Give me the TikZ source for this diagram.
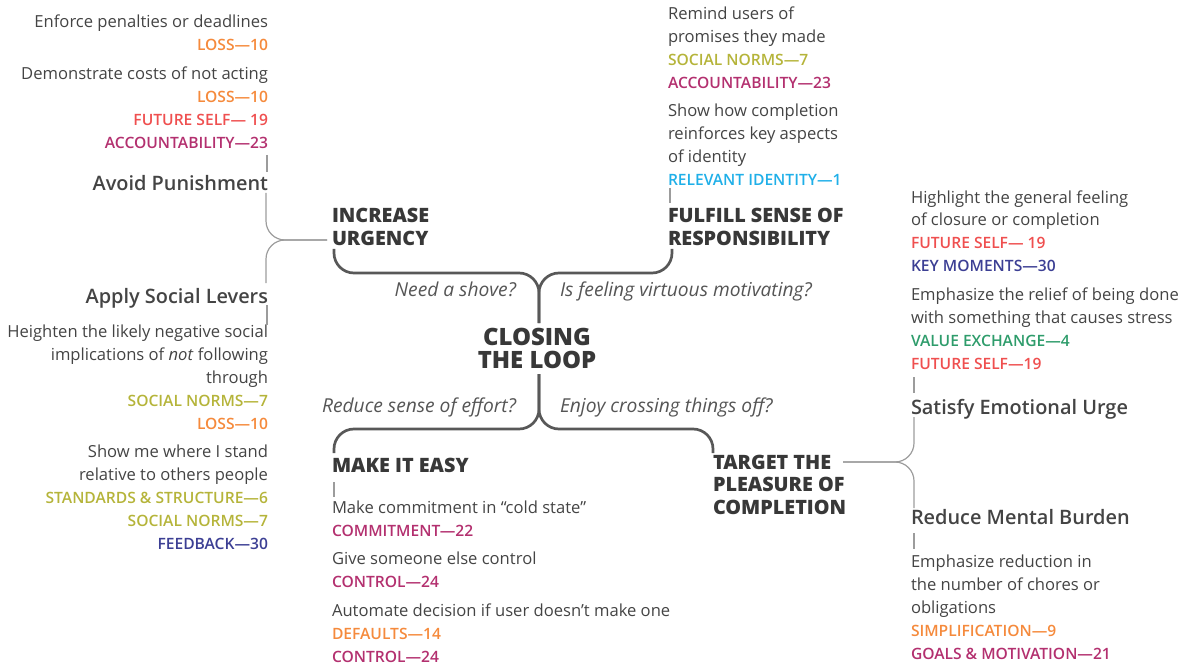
\documentclass[tikz,border=0pt]{standalone}
\usepackage{fontspec}
\setmainfont{Open Sans}
\newfontfamily\semib{Open Sans Semibold}
\newfontfamily\xbold{Open Sans Extrabold}

\definecolor{ink}{HTML}{444444}
\definecolor{headink}{HTML}{383838}
\definecolor{askink}{HTML}{555555}
\definecolor{branch}{HTML}{585858}
\definecolor{twig}{HTML}{9C9C9C}
\definecolor{cLoss}{HTML}{F58A3C}
\definecolor{cFuture}{HTML}{EF4F4F}
\definecolor{cAcc}{HTML}{B3306F}
\definecolor{cNorm}{HTML}{B5B43A}
\definecolor{cIdent}{HTML}{1FAFE8}
\definecolor{cNavy}{HTML}{3C3F94}
\definecolor{cValue}{HTML}{2E9C6B}

% coloured reference tags
\newcommand\tg[2]{{\semib\fontsize{15.6}{23}\selectfont\color{#1}#2}}

\begin{document}
\begin{tikzpicture}[x=1pt,y=-1pt,
  every node/.append style={yshift=-1pt},
  txt/.style={inner sep=0pt, outer sep=0pt, text=ink, font=\fontsize{16.6}{23}\selectfont},
  lcol/.style={txt, anchor=base east, align=right},
  rcol/.style={txt, anchor=base west, align=left},
  head/.style={inner sep=0pt, outer sep=0pt, text=headink, font=\xbold\fontsize{19.8}{23}\selectfont},
  sub/.style={inner sep=0pt, outer sep=0pt, text=ink, font=\semib\fontsize{19.9}{23}\selectfont},
  ask/.style={inner sep=0pt, outer sep=0pt, text=askink, font=\itshape\fontsize{19.2}{23}\selectfont},
  mainline/.style={draw=branch, line width=2.7pt, rounded corners=20pt},
  twigline/.style={draw=twig, line width=1.2pt, rounded corners=19pt}]
\useasboundingbox (0,0) rectangle (1181,663);

% ---- centre ----
\node[head, font=\xbold\fontsize{23.9}{23}\selectfont, align=center, anchor=base] (closing) at (537,367) {CLOSING\\THE LOOP};

\node[ask, anchor=base east] (qshove) at (516,295) {Need a shove?};
\node[ask, anchor=base west] (qvirtue) at (560,295) {Is feeling virtuous motivating?};
\node[ask, anchor=base east] (qeffort) at (516,411) {Reduce sense of effort?};
\node[ask, anchor=base west] (qcross) at (560,411) {Enjoy crossing things off?};

% ---- four strategies (base = baseline of the last line) ----
\node[head, anchor=base west, align=left] (urgency) at (332,245) {INCREASE\\URGENCY};
\node[head, anchor=base west, align=left] (respons) at (668,245) {FULFILL SENSE OF\\RESPONSIBILITY};
\node[head, anchor=base west, align=left] (easy) at (332,471) {MAKE IT EASY};
\node[head, anchor=base west, align=left, font=\xbold\fontsize{19.8}{22.5}\selectfont] (pleasure) at (713,513) {TARGET THE\\PLEASURE OF\\COMPLETION};

% ---- increase urgency ----
\node[lcol] (pen) at (268,50) {Enforce penalties or deadlines\\\tg{cLoss}{LOSS—10}};
\node[lcol] (cost) at (268,148) {Demonstrate costs of not acting\\\tg{cLoss}{LOSS—10}\\\tg{cFuture}{FUTURE SELF— 19}\\\tg{cAcc}{ACCOUNTABILITY—23}};
\node[sub, anchor=base east] (avoid) at (268,190) {Avoid Punishment};
\node[sub, anchor=base east] (levers) at (268,302) {Apply Social Levers};
\node[lcol] (heighten) at (268,428) {Heighten the likely negative social\\implications of \textit{not} following\\through\\\tg{cNorm}{SOCIAL NORMS—7}\\\tg{cLoss}{LOSS—10}};
\node[lcol] (stand) at (268,548) {Show me where I stand\\relative to others people\\\tg{cNorm}{STANDARDS \& STRUCTURE—6}\\\tg{cNorm}{SOCIAL NORMS—7}\\\tg{cNavy}{FEEDBACK—30}};

% ---- fulfill sense of responsibility ----
\node[rcol] (remind) at (668,88) {Remind users of\\promises they made\\\tg{cNorm}{SOCIAL NORMS—7}\\\tg{cAcc}{ACCOUNTABILITY—23}};
\node[rcol] (identity) at (668,185) {Show how completion\\reinforces key aspects\\of identity\\\tg{cIdent}{RELEVANT IDENTITY—1}};

% ---- make it easy ----
\node[rcol] (cold) at (332,535) {Make commitment in “cold state”\\\tg{cAcc}{COMMITMENT—22}};
\node[rcol] (control) at (332,586) {Give someone else control\\\tg{cAcc}{CONTROL—24}};
\node[rcol] (automate) at (332,661) {Automate decision if user doesn’t make one\\\tg{cLoss}{DEFAULTS—14}\\\tg{cAcc}{CONTROL—24}};

% ---- target the pleasure of completion ----
\node[rcol] (closure) at (911,271) {Highlight the general feeling\\of closure or completion\\\tg{cFuture}{FUTURE SELF— 19}\\\tg{cNavy}{KEY MOMENTS—30}};
\node[rcol] (relief) at (911,368) {Emphasize the relief of being done\\with something that causes stress\\\tg{cValue}{VALUE EXCHANGE—4}\\\tg{cFuture}{FUTURE SELF—19}};
\node[sub, anchor=base west] (urge) at (911,413) {Satisfy Emotional Urge};
\node[sub, anchor=base west] (burden) at (911,523) {Reduce Mental Burden};
\node[rcol] (chores) at (911,658) {Emphasize reduction in\\the number of chores or\\obligations\\\tg{cLoss}{SIMPLIFICATION—9}\\\tg{cAcc}{GOALS \& MOTIVATION—21}};

% ---- main branches from the centre ----
\coordinate (hubT) at (539,272);
\coordinate (hubB) at (539,428);
\coordinate (cTop) at (539,322);
\coordinate (cBot) at (539,373);
\coordinate (uEnd) at (334,248);
\coordinate (rEnd) at (672,248);
\coordinate (eEnd) at (334,452);
\coordinate (pEnd) at (713,452);
\draw[mainline] (cTop) -- (hubT) -- (hubT -| uEnd) -- (uEnd);
\draw[mainline] (cTop) -- (hubT) -- (hubT -| rEnd) -- (rEnd);
\draw[mainline] (cBot) -- (hubB) -- (hubB -| eEnd) -- (eEnd);
\draw[mainline] (cBot) -- (hubB) -- (hubB -| pEnd) -- (pEnd);

% ---- thin twigs ----
% left brace to "INCREASE URGENCY"
\coordinate (lTip) at (266,239);
\coordinate (lArm) at (327,239);
\draw[twigline] (266,193) -- (lTip) -- (lArm);
\draw[twigline] (266,283) -- (lTip) -- (lArm);
\draw[twig, line width=1.2pt] (267,155) -- (267,172);
\draw[twig, line width=1.2pt] (267,305) -- (267,325);
% ticks under headings
\draw[twig, line width=1.2pt] (670,188) -- (670,203);
\draw[twig, line width=1.2pt] (334,482) -- (334,497);
% right brace from "TARGET THE PLEASURE OF COMPLETION"
\coordinate (rTip) at (914,461);
\coordinate (rArm) at (843,461);
\draw[twigline] (914,417) -- (rTip) -- (rArm);
\draw[twigline] (914,508) -- (rTip) -- (rArm);
\draw[twig, line width=1.2pt] (914,377) -- (914,393);
\draw[twig, line width=1.2pt] (914,533) -- (914,549);
\end{tikzpicture}
\end{document}
